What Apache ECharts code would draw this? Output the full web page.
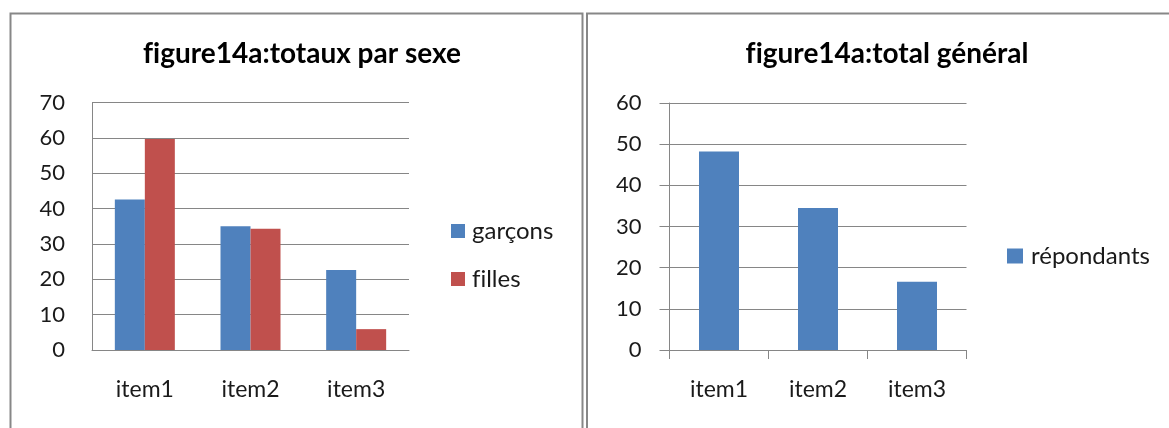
<!DOCTYPE html>
<html>
<head>
<meta charset="utf-8">
<script src="https://cdn.jsdelivr.net/npm/echarts@6/dist/echarts.min.js"></script>
<style>
html,body{margin:0;padding:0;background:#fff;}
#c{width:1169px;height:428px;}
</style>
</head>
<body>
<div id="c"></div>
<script>
const categories = ['item1', 'item2', 'item3'];
const garcons = [42.6, 35.0, 22.6];
const filles = [59.7, 34.3, 5.9];
const repondants = [48.2, 34.5, 16.6];
const title1 = 'figure14a:totaux par sexe';
const title2 = 'figure14a:total général';
const seriesNames1 = ['garçons', 'filles'];
const seriesNames2 = ['répondants'];

// break "fi"/"fl" ligatures so the text looks like the reference
const noLig = s => s.replace(/f(?=[il])/g, 'f\u200C');

const FONT = 'Lato';
const YLBL = 22;
const XLBL = 23;
const LEG = 24;
const gridCol = '#868686';
const txtCol = '#1a1a1a';

const chart = echarts.init(document.getElementById('c'), null, {renderer: 'canvas'});
chart.setOption({
  animation: false,
  textStyle: {fontFamily: FONT},
  graphic: [
    {type: 'rect', shape: {x: 10.5, y: 13.5, width: 572, height: 430}, style: {fill: 'none', stroke: '#878787', lineWidth: 2}, silent: true},
    {type: 'rect', shape: {x: 587, y: 13.5, width: 600, height: 430}, style: {fill: 'none', stroke: '#878787', lineWidth: 2}, silent: true}
  ],
  title: [
    {text: noLig(title1), left: 297, top: 35, textAlign: 'center', textStyle: {fontFamily: FONT, fontSize: 28, fontWeight: 'bold', color: '#000'}},
    {text: noLig(title2), left: 882, top: 35, textAlign: 'center', textStyle: {fontFamily: FONT, fontSize: 28, fontWeight: 'bold', color: '#000'}}
  ],
  legend: [
    {data: seriesNames1, orient: 'vertical', left: 446, top: 214, itemWidth: 14, itemHeight: 14, itemGap: 24, icon: 'rect',
     formatter: noLig,
     textStyle: {fontFamily: FONT, fontSize: LEG, color: txtCol, padding: [0, 0, 0, 2]}},
    {data: seriesNames2, orient: 'vertical', left: 1002, top: 239, itemWidth: 16, itemHeight: 15, icon: 'rect',
     textStyle: {fontFamily: FONT, fontSize: LEG, color: txtCol, padding: [0, 0, 0, 3]}}
  ],
  grid: [
    {left: 92, top: 102.5, width: 317, height: 247.5, containLabel: false},
    {left: 669.5, top: 103, width: 297, height: 247, containLabel: false}
  ],
  xAxis: [
    {type: 'category', gridIndex: 0, data: categories,
     axisLine: {lineStyle: {color: gridCol, width: 1}}, axisTick: {show: false},
     axisLabel: {fontFamily: FONT, fontSize: XLBL, color: txtCol, margin: 28}},
    {type: 'category', gridIndex: 1, data: categories,
     axisLine: {lineStyle: {color: gridCol, width: 1}}, axisTick: {show: true, length: 9, lineStyle: {color: gridCol}},
     axisLabel: {fontFamily: FONT, fontSize: XLBL, color: txtCol, margin: 28}}
  ],
  yAxis: [
    {type: 'value', gridIndex: 0, min: 0, max: 70, interval: 10,
     axisLine: {show: true, lineStyle: {color: gridCol}}, axisTick: {show: false},
     splitLine: {lineStyle: {color: gridCol}},
     axisLabel: {fontFamily: FONT, fontSize: YLBL, color: txtCol, margin: 27}},
    {type: 'value', gridIndex: 1, min: 0, max: 60, interval: 10,
     axisLine: {show: true, lineStyle: {color: gridCol}}, axisTick: {show: true, length: 10, lineStyle: {color: gridCol}},
     splitLine: {lineStyle: {color: gridCol}},
     axisLabel: {fontFamily: FONT, fontSize: YLBL, color: txtCol, margin: 28}}
  ],
  series: [
    {name: seriesNames1[0], type: 'bar', xAxisIndex: 0, yAxisIndex: 0, data: garcons, barWidth: 30, barGap: '0%',
     itemStyle: {color: '#4F81BD'}},
    {name: seriesNames1[1], type: 'bar', xAxisIndex: 0, yAxisIndex: 0, data: filles, barWidth: 30, barGap: '0%',
     itemStyle: {color: '#C0504D'}},
    {name: seriesNames2[0], type: 'bar', xAxisIndex: 1, yAxisIndex: 1, data: repondants, barWidth: 40,
     itemStyle: {color: '#4F81BD'}}
  ]
});
</script>
</body>
</html>
